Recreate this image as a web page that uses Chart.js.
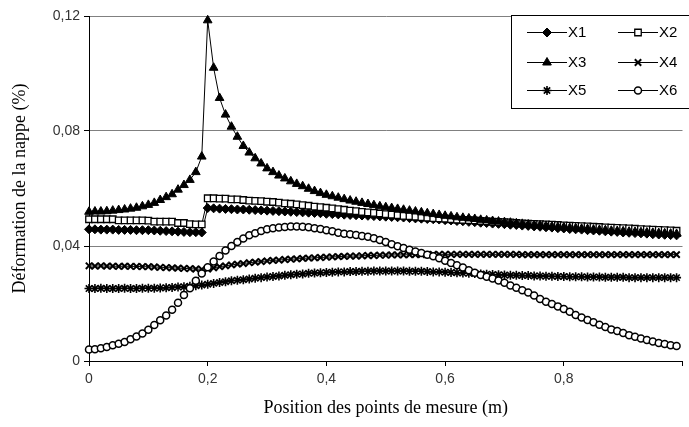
<!DOCTYPE html>
<html><head><meta charset="utf-8">
<script src="https://cdn.jsdelivr.net/npm/chart.js@4"></script>
<style>html,body{margin:0;padding:0;background:#fff}#wrap{width:689px;height:427px;position:relative}</style>
</head><body><div id="wrap"><canvas id="c" width="689" height="427"></canvas></div>
<script>
const positions = [
0.00,0.01,0.02,0.03,0.04,0.05,0.06,0.07,0.08,0.09,
0.10,0.11,0.12,0.13,0.14,0.15,0.16,0.17,0.18,0.19,
0.20,0.21,0.22,0.23,0.24,0.25,0.26,0.27,0.28,0.29,
0.30,0.31,0.32,0.33,0.34,0.35,0.36,0.37,0.38,0.39,
0.40,0.41,0.42,0.43,0.44,0.45,0.46,0.47,0.48,0.49,
0.50,0.51,0.52,0.53,0.54,0.55,0.56,0.57,0.58,0.59,
0.60,0.61,0.62,0.63,0.64,0.65,0.66,0.67,0.68,0.69,
0.70,0.71,0.72,0.73,0.74,0.75,0.76,0.77,0.78,0.79,
0.80,0.81,0.82,0.83,0.84,0.85,0.86,0.87,0.88,0.89,
0.90,0.91,0.92,0.93,0.94,0.95,0.96,0.97,0.98,0.99];

const seriesNames = ['X1','X2','X3','X4','X5','X6'];

const x1 = [
0.0458,0.0458,0.0457,0.0457,0.0457,0.0456,0.0456,0.0456,0.0455,0.0455,
0.0455,0.0454,0.0453,0.0452,0.0451,0.0450,0.0449,0.0448,0.0448,0.0447,
0.0532,0.0531,0.0530,0.0529,0.0528,0.0527,0.0527,0.0526,0.0525,0.0524,
0.0523,0.0522,0.0521,0.0520,0.0519,0.0518,0.0517,0.0516,0.0515,0.0514,
0.0512,0.0511,0.0510,0.0509,0.0508,0.0507,0.0506,0.0505,0.0504,0.0503,
0.0502,0.0501,0.0500,0.0499,0.0497,0.0496,0.0495,0.0494,0.0493,0.0492,
0.0490,0.0489,0.0487,0.0486,0.0484,0.0483,0.0481,0.0480,0.0478,0.0477,
0.0476,0.0474,0.0473,0.0471,0.0470,0.0468,0.0467,0.0465,0.0464,0.0462,
0.0461,0.0459,0.0458,0.0457,0.0455,0.0454,0.0453,0.0451,0.0450,0.0449,
0.0447,0.0446,0.0445,0.0444,0.0443,0.0441,0.0440,0.0439,0.0438,0.0437];

const x2 = [
0.0493,0.0493,0.0493,0.0493,0.0493,0.0489,0.0489,0.0489,0.0489,0.0489,
0.0488,0.0485,0.0485,0.0485,0.0485,0.0480,0.0480,0.0476,0.0475,0.0475,
0.0566,0.0566,0.0565,0.0565,0.0562,0.0562,0.0560,0.0558,0.0557,0.0556,
0.0554,0.0553,0.0551,0.0548,0.0547,0.0545,0.0542,0.0540,0.0537,0.0535,
0.0533,0.0531,0.0528,0.0526,0.0523,0.0521,0.0519,0.0517,0.0515,0.0513,
0.0511,0.0509,0.0507,0.0505,0.0504,0.0502,0.0500,0.0499,0.0497,0.0496,
0.0495,0.0493,0.0492,0.0491,0.0490,0.0489,0.0487,0.0486,0.0485,0.0484,
0.0483,0.0482,0.0480,0.0479,0.0478,0.0477,0.0476,0.0475,0.0474,0.0473,
0.0472,0.0471,0.0470,0.0469,0.0468,0.0467,0.0466,0.0465,0.0464,0.0463,
0.0462,0.0461,0.0460,0.0459,0.0458,0.0457,0.0456,0.0455,0.0454,0.0453];

const x3 = [
0.0519,0.0520,0.0520,0.0521,0.0523,0.0525,0.0527,0.0530,0.0533,0.0538,
0.0543,0.0550,0.0560,0.0570,0.0580,0.0596,0.0612,0.0630,0.0657,0.0711,
0.1185,0.1020,0.0915,0.0857,0.0815,0.0780,0.0748,0.0725,0.0705,0.0687,
0.0670,0.0657,0.0645,0.0635,0.0625,0.0616,0.0608,0.0599,0.0591,0.0584,
0.0578,0.0573,0.0568,0.0563,0.0558,0.0554,0.0550,0.0546,0.0542,0.0538,
0.0535,0.0532,0.0529,0.0526,0.0523,0.0520,0.0517,0.0514,0.0511,0.0508,
0.0505,0.0503,0.0500,0.0498,0.0496,0.0494,0.0491,0.0489,0.0487,0.0485,
0.0483,0.0481,0.0479,0.0477,0.0475,0.0473,0.0472,0.0470,0.0468,0.0466,
0.0465,0.0463,0.0462,0.0460,0.0459,0.0457,0.0456,0.0455,0.0453,0.0452,
0.0451,0.0450,0.0449,0.0448,0.0447,0.0446,0.0445,0.0444,0.0443,0.0442];

const x4 = [
0.0331,0.0330,0.0331,0.0330,0.0330,0.0329,0.0330,0.0329,0.0329,0.0328,
0.0328,0.0327,0.0326,0.0325,0.0324,0.0323,0.0322,0.0321,0.0320,0.0319,
0.0320,0.0324,0.0328,0.0331,0.0334,0.0337,0.0339,0.0342,0.0344,0.0346,
0.0348,0.0350,0.0351,0.0353,0.0354,0.0355,0.0357,0.0358,0.0359,0.0360,
0.0361,0.0362,0.0363,0.0364,0.0365,0.0365,0.0366,0.0367,0.0367,0.0368,
0.0368,0.0369,0.0369,0.0369,0.0370,0.0370,0.0370,0.0370,0.0371,0.0371,
0.0371,0.0371,0.0371,0.0371,0.0371,0.0371,0.0371,0.0371,0.0371,0.0371,
0.0371,0.0371,0.0371,0.0370,0.0370,0.0370,0.0370,0.0370,0.0370,0.0370,
0.0370,0.0370,0.0370,0.0370,0.0370,0.0370,0.0370,0.0370,0.0370,0.0370,
0.0370,0.0370,0.0370,0.0370,0.0370,0.0370,0.0370,0.0370,0.0370,0.0370];

const x5 = [
0.0252,0.0252,0.0253,0.0252,0.0252,0.0252,0.0253,0.0252,0.0252,0.0253,
0.0253,0.0253,0.0254,0.0255,0.0256,0.0257,0.0258,0.0260,0.0262,0.0264,
0.0267,0.0270,0.0273,0.0276,0.0279,0.0281,0.0283,0.0285,0.0288,0.0290,
0.0292,0.0294,0.0296,0.0298,0.0300,0.0302,0.0303,0.0305,0.0306,0.0307,
0.0308,0.0309,0.0310,0.0310,0.0311,0.0311,0.0312,0.0312,0.0313,0.0313,
0.0313,0.0313,0.0313,0.0313,0.0312,0.0312,0.0312,0.0311,0.0310,0.0310,
0.0309,0.0308,0.0307,0.0306,0.0305,0.0304,0.0303,0.0302,0.0301,0.0300,
0.0299,0.0298,0.0298,0.0297,0.0297,0.0296,0.0296,0.0295,0.0295,0.0294,
0.0294,0.0293,0.0293,0.0293,0.0292,0.0292,0.0292,0.0291,0.0291,0.0291,
0.0291,0.0290,0.0290,0.0290,0.0290,0.0290,0.0290,0.0290,0.0290,0.0290];

const x6 = [
0.0040,0.0041,0.0044,0.0049,0.0055,0.0060,0.0066,0.0076,0.0085,0.0096,
0.0109,0.0125,0.0142,0.0158,0.0178,0.0203,0.0230,0.0253,0.0279,0.0304,
0.0326,0.0346,0.0365,0.0384,0.0400,0.0414,0.0426,0.0437,0.0444,0.0452,
0.0458,0.0462,0.0464,0.0466,0.0468,0.0468,0.0467,0.0465,0.0462,0.0459,
0.0455,0.0451,0.0446,0.0443,0.0441,0.0438,0.0435,0.0432,0.0427,0.0421,
0.0414,0.0406,0.0399,0.0393,0.0387,0.0381,0.0376,0.0370,0.0364,0.0357,
0.0349,0.0341,0.0333,0.0325,0.0316,0.0307,0.0299,0.0293,0.0287,0.0280,
0.0272,0.0263,0.0255,0.0246,0.0238,0.0228,0.0216,0.0206,0.0198,0.0190,
0.0181,0.0171,0.0160,0.0151,0.0143,0.0135,0.0126,0.0118,0.0110,0.0104,
0.0097,0.0090,0.0084,0.0078,0.0073,0.0068,0.0063,0.0059,0.0055,0.0052];

const xTickValues = [0, 0.2, 0.4, 0.6, 0.8, 1];
const xTickLabels = ['0', '0,2', '0,4', '0,6', '0,8', ''];
const yTickValues = [0, 0.04, 0.08, 0.12];
const yTickLabels = ['0', '0,04', '0,08', '0,12'];
const xTitle = 'Position des points de mesure (m)';
const yTitle = 'Déformation de la nappe (%)';

const seriesValues = [x1, x2, x3, x4, x5, x6];
const markerStyles = [
  {pointStyle: 'rectRot', radius: 4.5, fill: '#000', bw: 1},
  {pointStyle: 'rect', radius: 4.6, fill: '#fff', bw: 1.3},
  {pointStyle: 'triangle', radius: 5, fill: '#000', bw: 1},
  {pointStyle: 'crossRot', radius: 4.5, fill: '#000', bw: 2},
  {pointStyle: 'star', radius: 4.5, fill: '#000', bw: 1.6},
  {pointStyle: 'circle', radius: 3.5, fill: '#fff', bw: 1.5}
];

const datasets = seriesNames.map((name, i) => ({
  label: name,
  data: positions.map((p, k) => ({x: p, y: seriesValues[i][k]})),
  borderColor: '#000',
  borderWidth: 1,
  pointStyle: markerStyles[i].pointStyle,
  pointRadius: markerStyles[i].radius,
  pointBackgroundColor: markerStyles[i].fill,
  pointBorderColor: '#000',
  pointBorderWidth: markerStyles[i].bw,
  tension: 0,
  fill: false,
  clip: false,
  order: seriesNames.length - i
}));

const boxLegend = {
  id: 'boxLegend',
  afterDraw(chart) {
    const ctx = chart.ctx;
    ctx.save();
    ctx.fillStyle = '#fff';
    ctx.fillRect(511.5, 15.5, 182, 93);
    ctx.strokeStyle = '#000';
    ctx.lineWidth = 1;
    ctx.strokeRect(511.5, 15.5, 182, 93);
    const cols = [527, 618];
    const rows = [32, 62, 90];
    const len = 40;
    chart.data.datasets.forEach((ds, i) => {
      const lx = cols[i % 2], ly = rows[Math.floor(i / 2)];
      ctx.strokeStyle = '#000';
      ctx.lineWidth = 1;
      ctx.beginPath();
      ctx.moveTo(lx, ly + 0.5);
      ctx.lineTo(lx + len, ly + 0.5);
      ctx.stroke();
      ctx.fillStyle = ds.pointBackgroundColor;
      ctx.lineWidth = ds.pointBorderWidth;
      Chart.helpers.drawPoint(ctx, {pointStyle: ds.pointStyle, radius: ds.pointRadius, borderWidth: ds.pointBorderWidth, rotation: 0}, lx + len / 2, ly + 0.5);
      ctx.fillStyle = '#000';
      ctx.font = '15px "Liberation Sans", Arial, sans-serif';
      ctx.textBaseline = 'middle';
      ctx.textAlign = 'left';
      ctx.fillText(ds.label, lx + len + 1, ly + 1);
    });
    ctx.restore();
  }
};

new Chart(document.getElementById('c'), {
  type: 'line',
  data: {datasets},
  plugins: [boxLegend],
  options: {
    responsive: false,
    animation: false,
    events: [],
    layout: {padding: {top: 16, right: 1, left: 0, bottom: 0}},
    plugins: {legend: {display: false}, tooltip: {enabled: false}},
    scales: {
      x: {
        type: 'linear',
        min: 0, max: 1,
        afterBuildTicks: s => { s.ticks = xTickValues.map(v => ({value: v})); },
        afterFit: s => { s.height = 66; },
        grid: {drawOnChartArea: false, tickLength: 5, tickColor: '#000', tickWidth: 1},
        border: {color: '#000', width: 1},
        ticks: {
          autoSkip: false, maxRotation: 0, padding: 5,
          color: '#333',
          font: {family: '"Liberation Sans", Arial, sans-serif', size: 14},
          callback: (v, i) => xTickLabels[i]
        },
        title: {
          display: true, text: xTitle, color: '#000',
          font: {family: '"Liberation Serif", "Times New Roman", serif', size: 18},
          padding: {top: 0, bottom: 8}
        }
      },
      y: {
        type: 'linear',
        min: 0, max: 0.12,
        afterBuildTicks: s => { s.ticks = yTickValues.map(v => ({value: v})); },
        afterFit: s => { s.width = 89; },
        grid: {
          color: c => (c.tick && c.tick.value === 0) ? 'rgba(0,0,0,0)' : '#808080',
          tickLength: 5, tickColor: '#000', lineWidth: 1
        },
        border: {color: '#000', width: 1},
        ticks: {
          autoSkip: false, padding: 4,
          color: '#333',
          font: {family: '"Liberation Sans", Arial, sans-serif', size: 14},
          callback: (v, i) => yTickLabels[i]
        },
        title: {
          display: true, text: yTitle, color: '#000',
          font: {family: '"Liberation Serif", "Times New Roman", serif', size: 18},
          padding: {top: 9, bottom: 0}
        }
      }
    }
  }
});
</script>
</body></html>
